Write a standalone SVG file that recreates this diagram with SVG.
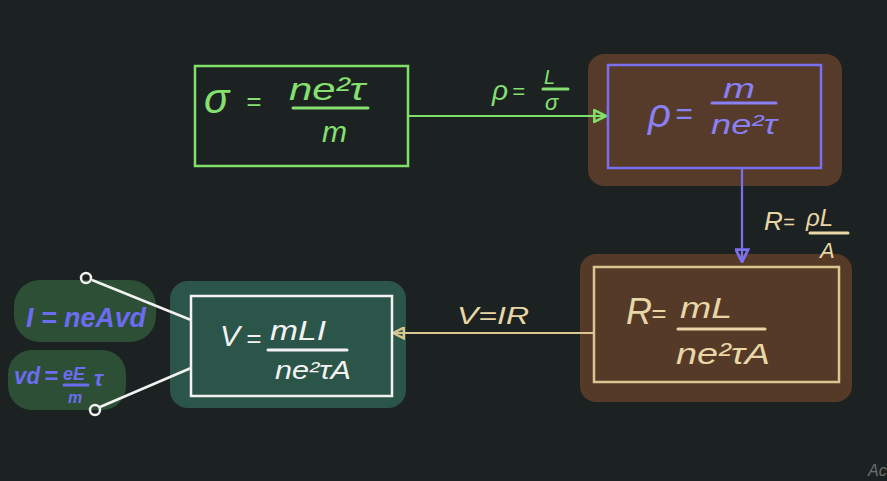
<svg xmlns="http://www.w3.org/2000/svg" width="887" height="481" viewBox="0 0 887 481">
<defs>
<marker id="triG" viewBox="0 0 12 12" refX="11" refY="6" markerWidth="14" markerHeight="14" markerUnits="userSpaceOnUse" orient="auto"><path d="M1,1 L11,6 L1,11 Z" fill="none" stroke="#7fe06a" stroke-width="2.2"/></marker>
<marker id="triP" viewBox="0 0 12 12" refX="11" refY="6" markerWidth="15" markerHeight="15" markerUnits="userSpaceOnUse" orient="auto"><path d="M1,1 L11,6 L1,11 Z" fill="none" stroke="#7a70f0" stroke-width="2.2"/></marker>
<marker id="triC" viewBox="0 0 12 12" refX="11" refY="6" markerWidth="13" markerHeight="13" markerUnits="userSpaceOnUse" orient="auto"><path d="M1,1 L11,6 L1,11 Z" fill="none" stroke="#d9c590" stroke-width="2.2"/></marker>
</defs>
<style>
text{font-family:"Liberation Sans","DejaVu Sans",sans-serif;font-style:italic}
.g{fill:#86e070}
.p{fill:#8a80f5}
.c{fill:#e8d6a6}
.w{fill:#f2f2f2}
.b{fill:#6c6cf0}
.bar{stroke-width:3;stroke-linecap:round}
</style>
<rect x="0" y="0" width="887" height="481" fill="#1c2221"/>
<!-- background blobs -->
<rect x="588" y="54" width="254" height="132" rx="16" fill="#563a2a"/>
<rect x="580" y="254" width="272" height="148" rx="16" fill="#563a28"/>
<rect x="170" y="281" width="236" height="127" rx="18" fill="#2b5548"/>
<rect x="14" y="280" width="142" height="62" rx="26" fill="#2c4f35"/>
<rect x="8" y="350" width="118" height="60" rx="24" fill="#2c4f35"/>

<g id="connectors">
<line x1="408" y1="116" x2="606" y2="116" stroke="#7fe06a" stroke-width="2.2" marker-end="url(#triG)"/>
<line x1="742" y1="168" x2="742" y2="262" stroke="#7a70f0" stroke-width="2.2" marker-end="url(#triP)"/>
<line x1="594" y1="333" x2="393" y2="333" stroke="#d9c590" stroke-width="2.2" marker-end="url(#triC)"/>
<line x1="191" y1="320" x2="92" y2="280" stroke="#f2f2f2" stroke-width="2.5"/>
<circle cx="86" cy="278" r="5" fill="none" stroke="#f2f2f2" stroke-width="2.5"/>
<line x1="191" y1="368" x2="100" y2="407" stroke="#f2f2f2" stroke-width="2.5"/>
<circle cx="95" cy="410" r="5" fill="none" stroke="#f2f2f2" stroke-width="2.5"/>
<g id="lbl-rho" class="g">
<text x="492" y="100" font-size="28">ρ</text>
<text x="512" y="99" font-size="22">=</text>
<text x="544" y="84" font-size="20" font-style="normal">L</text>
<line class="bar" x1="543" y1="89" x2="568" y2="89" stroke="#86e070"/>
<text x="545" y="110" font-size="22">σ</text>
</g>
<g id="lbl-R" class="c">
<text x="764" y="230" font-size="26" font-style="normal">R</text>
<text x="783" y="229" font-size="20">=</text>
<text x="806" y="226" font-size="24">ρL</text>
<line class="bar" x1="810" y1="233" x2="848" y2="233" stroke="#e8d6a6"/>
<text x="820" y="258" font-size="22" font-style="normal">A</text>
</g>
<text id="lbl-V" class="c" x="457" y="324" font-size="24" font-style="normal" textLength="72" lengthAdjust="spacingAndGlyphs">V=IR</text>
</g>

<g id="sigma">
<rect x="195" y="66" width="213" height="100" fill="none" stroke="#7fe06a" stroke-width="2.5"/>
<text class="g" x="204" y="113" font-size="42">σ</text>
<text class="g" x="246" y="110" font-size="26">=</text>
<text class="g" x="289" y="100" font-size="32" textLength="76" lengthAdjust="spacingAndGlyphs">ne²τ</text>
<line class="bar" x1="293" y1="108" x2="368" y2="108" stroke="#86e070"/>
<text class="g" x="322" y="142" font-size="30">m</text>
</g>

<g id="rho">
<rect x="608" y="65" width="213" height="103" fill="none" stroke="#7a70f0" stroke-width="2.5"/>
<text class="p" x="648" y="127" font-size="40">ρ</text>
<text class="p" x="675" y="124" font-size="30">=</text>
<text class="p" x="723" y="98" font-size="28" textLength="32" lengthAdjust="spacingAndGlyphs">m</text>
<line class="bar" x1="712" y1="103" x2="776" y2="103" stroke="#8a80f5"/>
<text class="p" x="711" y="134" font-size="28" textLength="66" lengthAdjust="spacingAndGlyphs">ne²τ</text>
</g>

<g id="resistance">
<rect x="594" y="267" width="245" height="115" fill="none" stroke="#d9c590" stroke-width="2.5"/>
<text class="c" x="626" y="324" font-size="36" font-style="normal">R</text>
<text class="c" x="651" y="322" font-size="26">=</text>
<text class="c" x="680" y="318" font-size="30" textLength="52" lengthAdjust="spacingAndGlyphs">mL</text>
<line class="bar" x1="678" y1="329" x2="765" y2="329" stroke="#e8d6a6"/>
<text class="c" x="676" y="364" font-size="30" textLength="94" lengthAdjust="spacingAndGlyphs">ne²τA</text>
</g>

<g id="voltage">
<rect x="191" y="296" width="201" height="100" fill="none" stroke="#f2f2f2" stroke-width="2.5"/>
<text class="w" x="220" y="346" font-size="30" font-style="normal">V</text>
<text class="w" x="246" y="347" font-size="26">=</text>
<text class="w" x="270" y="340" font-size="28" textLength="56" lengthAdjust="spacingAndGlyphs">mLI</text>
<line class="bar" x1="268" y1="350" x2="347" y2="350" stroke="#f2f2f2"/>
<text class="w" x="275" y="379" font-size="26" textLength="76" lengthAdjust="spacingAndGlyphs">ne²τA</text>
</g>

<g id="current">
<text class="b" x="26" y="327" font-size="28" font-weight="bold" textLength="120" lengthAdjust="spacingAndGlyphs">I = neAvd</text>
</g>

<g id="drift">
<text class="b" x="14" y="384" font-size="24" font-weight="bold" textLength="26" lengthAdjust="spacingAndGlyphs">vd</text>
<text class="b" x="44" y="384" font-size="24" font-weight="bold">=</text>
<text class="b" x="63" y="380" font-size="18" font-weight="bold">eE</text>
<line class="bar" x1="64" y1="385" x2="88" y2="385" stroke="#6c6cf0"/>
<text class="b" x="68" y="403" font-size="16" font-weight="bold">m</text>
<text class="b" x="94" y="386" font-size="22" font-weight="bold">τ</text>
</g>
<text x="868" y="476" font-size="16" font-style="normal" fill="#6a6e70">Ac</text>
</svg>
